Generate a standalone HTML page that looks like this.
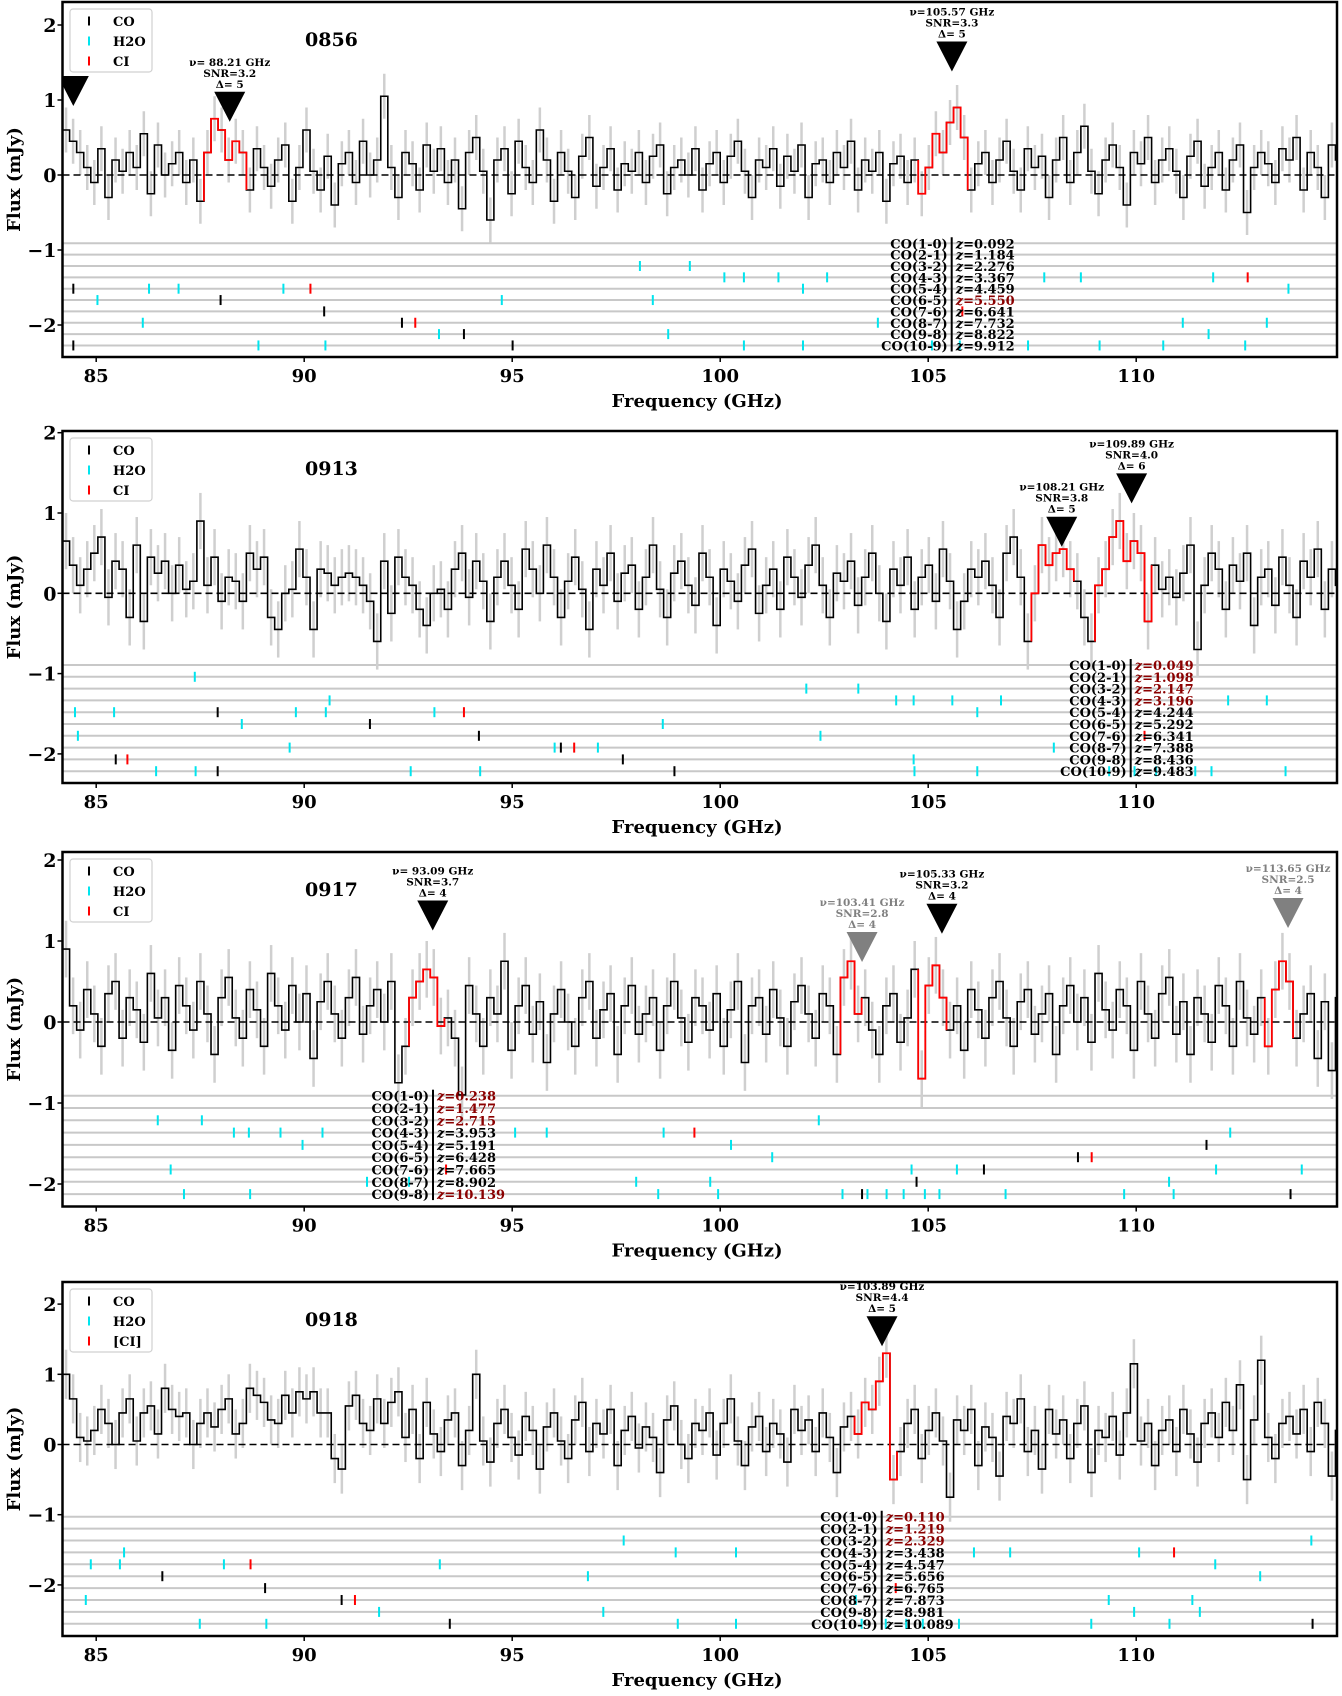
<!DOCTYPE html>
<html><head><meta charset="utf-8"><title>Spectra</title>
<style>
html,body{margin:0;padding:0;background:#fff;}
svg{display:block;font-family:"DejaVu Serif","Liberation Serif",serif;font-weight:bold;}
</style></head>
<body>
<svg id="fig" xmlns="http://www.w3.org/2000/svg" width="1342" height="1696" viewBox="0 0 1342 1696"></svg>
<script>
// ---- data ----
const FREQ0 = 84.19;
const CHAN = 0.17;
const xTicks = [85, 90, 95, 100, 105, 110];
const panelIds = ["0856", "0913", "0917", "0918"];

const flux0856 = [0.6,0.45,0.3,0.1,-0.1,0.35,-0.3,0.2,0.05,0.3,
0.1,0.55,-0.25,0.4,0.0,0.15,0.3,-0.1,0.2,-0.35,
0.3,0.75,0.6,0.2,0.45,0.3,-0.2,0.35,0.1,-0.15,
0.2,0.4,-0.35,0.1,0.6,0.05,-0.2,0.25,-0.4,0.15,
0.3,-0.1,0.45,0.0,0.2,1.05,0.1,-0.3,0.3,0.15,
-0.2,0.4,0.05,0.35,-0.1,0.2,-0.45,0.3,0.5,0.05,
-0.6,0.2,0.35,-0.25,0.45,0.1,-0.1,0.6,0.2,-0.35,
0.3,0.05,-0.3,0.25,0.5,-0.15,0.1,0.35,-0.2,0.15,
0.05,0.3,-0.1,0.25,0.4,-0.25,0.1,0.2,0.0,0.35,
-0.2,0.15,0.3,-0.1,0.25,0.45,0.05,-0.3,0.2,0.1,
0.35,-0.15,0.25,0.05,0.4,-0.3,0.15,0.2,-0.1,0.3,
0.1,0.45,-0.2,0.2,0.05,0.3,-0.35,0.15,0.25,-0.1,
0.2,-0.25,0.1,0.55,0.3,0.7,0.9,0.5,-0.2,0.15,
0.3,-0.1,0.2,0.45,0.05,-0.2,0.35,0.1,0.25,-0.3,
0.2,0.5,-0.1,0.3,0.65,0.05,-0.25,0.2,0.4,0.1,
-0.4,0.3,0.15,0.5,-0.1,0.2,0.35,0.05,-0.3,0.25,
0.45,-0.15,0.1,0.3,-0.2,0.2,0.4,-0.5,0.1,0.3,
0.15,-0.1,0.35,0.2,0.5,-0.2,0.3,0.1,-0.3,0.4,0.2];

const flux0913 = [0.65,0.35,0.1,0.3,0.5,0.7,-0.05,0.4,0.3,-0.3,
0.6,-0.35,0.45,0.25,0.4,0.0,0.35,0.05,0.15,0.9,
0.1,0.45,-0.1,0.2,0.15,-0.1,0.5,0.3,0.45,-0.3,
-0.45,0.0,0.05,0.55,0.2,-0.45,0.3,0.25,0.1,0.2,
0.25,0.2,0.1,-0.1,-0.6,0.4,-0.25,0.45,0.2,0.1,
-0.2,-0.4,0.0,0.05,-0.2,0.3,0.5,-0.05,0.4,0.15,
-0.35,0.2,0.4,0.1,-0.2,0.55,0.3,0.0,0.6,0.2,
-0.3,0.15,0.45,0.05,-0.45,0.3,0.1,0.5,-0.1,0.25,
0.35,-0.2,0.2,0.6,0.05,-0.3,0.25,0.4,0.1,-0.15,
0.5,0.2,-0.4,0.3,0.15,-0.1,0.35,0.55,-0.25,0.1,
0.3,-0.2,0.45,0.2,-0.05,0.35,0.6,0.1,-0.3,0.25,
0.15,0.4,-0.15,0.2,0.5,0.0,-0.35,0.3,0.1,0.45,
-0.2,0.2,0.35,-0.1,0.55,0.15,-0.45,-0.1,0.3,0.2,
0.4,0.1,-0.3,0.5,0.7,0.2,-0.6,0.0,0.6,0.35,
0.5,0.55,0.3,0.15,-0.3,-0.6,0.1,0.3,0.7,0.9,
0.4,0.65,0.5,-0.35,0.35,0.05,0.2,-0.05,0.25,0.6,
-0.7,0.1,0.5,0.3,-0.2,0.35,0.15,0.5,-0.4,0.2,
0.3,-0.15,0.45,0.1,-0.3,0.4,0.2,0.55,-0.2,0.3,0.1];

const flux0917 = [0.9,0.2,-0.1,0.4,0.1,-0.3,0.35,0.5,-0.2,0.3,
0.15,-0.25,0.6,0.05,0.3,-0.35,0.45,0.2,-0.1,0.5,
0.1,-0.4,0.3,0.55,0.05,-0.2,0.4,0.15,-0.3,0.6,
0.2,-0.1,0.45,0.0,0.35,-0.45,0.25,0.5,0.1,-0.2,
0.3,0.55,-0.15,0.2,0.4,0.0,0.5,-0.75,-0.3,0.3,
0.5,0.65,0.55,-0.05,0.05,-0.2,-0.9,0.45,0.1,-0.3,
0.3,0.1,0.75,-0.35,0.2,0.45,-0.15,0.25,-0.5,0.1,
0.4,0.0,-0.3,0.3,0.5,-0.2,0.15,0.35,-0.4,0.2,
0.45,-0.15,0.1,0.3,-0.35,0.2,0.5,0.05,-0.25,0.3,
0.2,-0.1,0.35,-0.3,0.15,0.5,-0.5,0.2,0.3,-0.15,
0.4,0.05,-0.3,0.25,0.45,0.1,-0.2,0.35,0.2,-0.4,
0.55,0.75,0.1,0.3,-0.1,-0.4,0.2,0.35,-0.25,0.05,
0.65,-0.7,0.45,0.7,0.3,-0.1,0.2,-0.35,0.4,0.15,
-0.2,0.3,0.5,0.05,-0.3,0.25,0.4,-0.15,0.1,0.35,
-0.4,0.2,0.45,0.0,0.3,-0.25,0.6,0.15,-0.1,0.4,
0.2,-0.35,0.5,0.1,-0.2,0.35,0.55,-0.15,0.25,-0.4,
0.3,0.1,-0.25,0.45,0.2,-0.3,0.5,0.05,-0.15,0.3,
-0.3,0.4,0.75,0.5,-0.2,0.1,0.35,-0.45,0.25,-0.6,0.3];

const flux0918 = [1.0,0.65,0.1,0.05,0.2,0.5,0.3,0.0,0.45,0.65,
0.05,0.45,0.55,0.15,0.8,0.5,0.4,0.45,0.0,0.3,
0.45,0.25,0.5,0.65,0.15,0.3,0.8,0.7,0.6,0.35,
0.3,0.7,0.45,0.75,0.65,0.75,0.45,0.45,-0.2,-0.35,
0.55,0.7,0.3,0.2,0.65,0.3,0.6,0.75,0.1,0.5,
-0.2,0.6,0.15,-0.1,0.35,0.45,-0.3,0.2,1.0,0.05,
-0.25,0.3,0.5,0.1,-0.15,0.4,0.2,-0.35,0.25,0.45,
0.05,-0.2,0.35,0.6,-0.1,0.3,0.15,0.5,-0.3,0.2,
0.4,-0.05,0.25,0.1,-0.4,0.35,0.55,0.0,-0.2,0.3,
0.2,0.45,-0.15,0.3,0.65,0.05,-0.3,0.25,0.4,-0.1,
0.3,0.15,-0.25,0.5,0.2,0.35,-0.1,0.45,0.1,-0.4,
0.25,0.4,0.15,0.6,0.5,0.9,1.3,-0.5,-0.1,0.3,
0.5,-0.2,0.2,0.45,0.05,-0.75,0.35,0.2,0.5,-0.3,
0.25,0.1,-0.45,0.4,0.3,0.65,-0.1,0.2,-0.35,0.5,
0.15,0.35,-0.2,0.3,0.55,-0.4,0.2,0.1,0.4,-0.15,
0.45,1.15,0.05,0.3,-0.3,0.2,0.35,-0.1,0.5,0.15,
-0.25,0.3,0.45,0.1,0.6,0.2,0.85,-0.5,0.35,1.2,
0.1,-0.2,0.3,0.4,0.15,0.5,-0.1,0.6,0.3,-0.45,0.2];

const fluxErr = [0.3, 0.35, 0.35, 0.35];

// highlighted (red) frequency ranges [start, end] in GHz
const red0856 = [[87.52, 88.56], [104.83, 105.95]];
const red0913 = [[107.45, 108.5], [109.05, 110.36]];
const red0917 = [[92.46, 93.29], [102.85, 103.48], [104.72, 105.5], [113.14, 113.82]];
const red0918 = [[103.2, 104.2]];

// detections: [freq, flux at tip, snr, delta, grey?]
const det0856 = [[84.45, 0.92, null, null, 0], [88.21, 0.71, 3.2, 5, 0], [105.57, 1.38, 3.3, 5, 0]];
const det0913 = [[108.21, 0.58, 3.8, 5, 0], [109.89, 1.12, 4.0, 6, 0]];
const det0917 = [[93.09, 1.13, 3.7, 4, 0], [103.41, 0.74, 2.8, 4, 1], [105.33, 1.09, 3.2, 4, 0], [113.65, 1.16, 2.5, 4, 1]];
const det0918 = [[103.89, 1.40, 4.4, 5, 0]];

// line-row labels
const coNames = ["CO(1-0)","CO(2-1)","CO(3-2)","CO(4-3)","CO(5-4)","CO(6-5)","CO(7-6)","CO(8-7)","CO(9-8)","CO(10-9)"];
const z0856 = ["0.092","1.184","2.276","3.367","4.459","5.550","6.641","7.732","8.822","9.912"];
const zRed0856 = [0,0,0,0,0,1,0,0,0,0];
const z0913 = ["0.049","1.098","2.147","3.196","4.244","5.292","6.341","7.388","8.436","9.483"];
const zRed0913 = [1,1,1,1,0,0,0,0,0,0];
const z0917 = ["0.238","1.477","2.715","3.953","5.191","6.428","7.665","8.902","10.139"];
const zRed0917 = [1,1,1,0,0,0,0,0,1];
const z0918 = ["0.110","1.219","2.329","3.438","4.547","5.656","6.765","7.873","8.981","10.089"];
const zRed0918 = [1,1,1,0,0,0,0,0,0,0];

// marker ticks: [row, type (k=CO, c=H2O, r=CI), freq]
const mk0856 = [[2,'c',98.07],[2,'c',99.27],
[3,'c',100.10],[3,'c',100.57],[3,'c',101.40],[3,'c',102.57],[3,'c',107.79],[3,'c',108.67],[3,'c',111.85],[3,'r',112.68],
[4,'k',84.45],[4,'c',86.27],[4,'c',86.98],[4,'c',89.50],[4,'r',90.15],[4,'c',101.99],[4,'c',113.66],
[5,'c',85.03],[5,'k',87.99],[5,'c',94.75],[5,'c',98.38],
[6,'k',90.48],[6,'r',105.82],
[7,'c',86.12],[7,'k',92.35],[7,'r',92.67],[7,'c',103.79],[7,'c',111.12],[7,'c',113.14],
[8,'c',93.24],[8,'k',93.84],[8,'c',98.75],[8,'c',111.74],
[9,'k',84.45],[9,'k',95.01],[9,'c',88.90],[9,'c',90.51],[9,'c',100.57],[9,'c',101.99],[9,'c',105.09],[9,'c',105.76],[9,'c',107.40],[9,'c',109.12],[9,'c',110.65],[9,'c',112.62]];
const mk0913 = [[1,'c',87.37],[2,'c',102.07],[2,'c',103.32],
[3,'c',90.61],[3,'c',104.23],[3,'c',104.65],[3,'c',105.58],[3,'c',106.75],[3,'c',112.21],[3,'c',113.14],
[4,'c',84.49],[4,'c',85.43],[4,'k',87.92],[4,'c',89.80],[4,'c',90.52],[4,'c',93.13],[4,'r',93.84],[4,'c',106.18],
[5,'c',88.50],[5,'k',91.58],[5,'c',98.62],
[6,'c',84.56],[6,'k',94.20],[6,'c',102.41],[6,'r',110.2],
[7,'c',89.65],[7,'c',96.02],[7,'k',96.17],[7,'r',96.49],[7,'c',97.06],[7,'c',108.02],
[8,'k',85.47],[8,'r',85.75],[8,'k',97.66],[8,'c',104.65],
[9,'c',86.44],[9,'c',87.39],[9,'k',87.92],[9,'c',92.56],[9,'c',94.23],[9,'k',98.90],[9,'c',104.67],[9,'c',106.18],[9,'c',109.35],[9,'c',109.96],[9,'c',110.48],[9,'c',111.42],[9,'c',111.81],[9,'c',113.59]];
const mk0917 = [[2,'c',86.48],[2,'c',87.54],[2,'c',102.37],
[3,'c',88.31],[3,'c',88.67],[3,'c',89.43],[3,'c',90.44],[3,'c',95.07],[3,'c',95.83],[3,'c',98.64],[3,'r',99.38],[3,'c',112.26],
[4,'c',89.96],[4,'c',100.26],[4,'k',111.69],
[5,'c',101.25],[5,'k',108.60],[5,'r',108.93],
[6,'c',86.79],[6,'r',93.41],[6,'c',104.60],[6,'c',105.69],[6,'k',106.34],[6,'c',111.92],[6,'c',113.98],
[7,'c',91.51],[7,'c',92.52],[7,'c',97.98],[7,'c',99.76],[7,'k',104.72],[7,'c',110.79],
[8,'c',87.11],[8,'c',88.70],[8,'c',98.51],[8,'c',99.95],[8,'c',102.94],[8,'k',103.41],[8,'c',103.54],[8,'c',104.0],[8,'c',104.41],[8,'c',104.92],[8,'c',105.27],[8,'c',106.86],[8,'c',109.71],[8,'c',110.90],[8,'k',113.71]];
const mk0918 = [[2,'c',97.68],[2,'c',114.21],
[3,'c',85.67],[3,'c',98.93],[3,'c',100.38],[3,'c',106.1],[3,'c',106.97],[3,'c',110.07],[3,'r',110.91],
[4,'c',84.87],[4,'c',85.57],[4,'c',88.07],[4,'r',88.71],[4,'c',93.26],[4,'c',111.9],
[5,'k',86.59],[5,'c',96.82],[5,'c',112.98],
[6,'k',89.06],[6,'r',104.22],
[7,'c',84.75],[7,'k',90.9],[7,'r',91.22],[7,'c',103.26],[7,'c',109.34],[7,'c',111.35],
[8,'c',91.8],[8,'c',97.19],[8,'c',109.95],[8,'c',111.53],
[9,'c',87.49],[9,'c',89.09],[9,'k',93.5],[9,'c',98.98],[9,'c',100.38],[9,'c',103.4],[9,'c',103.98],[9,'c',104.47],[9,'c',104.87],[9,'c',105.74],[9,'c',108.92],[9,'c',110.8],[9,'k',114.24]];

// ---- layout (pixel geometry, not data) ----
const L = 62.5, R = 1337;
const layout = [
  {top:2,   bot:357,    y0:175,    ppu:75,   row0:243.3,  rowStep:11.35, bar:951.7,  ciLabel:"CI"},
  {top:431, bot:783,    y0:593.3,  ppu:80.3, row0:665,    rowStep:11.8,  bar:1130.7, ciLabel:"CI"},
  {top:852, bot:1206.5, y0:1022,   ppu:81,   row0:1095.7, rowStep:12.3,  bar:433,    ciLabel:"CI"},
  {top:1282,bot:1636,   y0:1444.5, ppu:70.2, row0:1516.7, rowStep:11.9,  bar:881.7,  ciLabel:"[CI]"}
];
const fluxes = [flux0856, flux0913, flux0917, flux0918];
const reds = [red0856, red0913, red0917, red0918];
const dets = [det0856, det0913, det0917, det0918];
const zs = [z0856, z0913, z0917, z0918];
const zReds = [zRed0856, zRed0913, zRed0917, zRed0918];
const mks = [mk0856, mk0913, mk0917, mk0918];
const yTicks = [2, 1, 0, -1, -2];
const COLORS = {k:'#000', c:'#00e5ee', r:'#ff0000'};

const NS = "http://www.w3.org/2000/svg";
const svg = document.getElementById('fig');
function el(tag, attrs, parent) {
  const e = document.createElementNS(NS, tag);
  for (const k in attrs) e.setAttribute(k, attrs[k]);
  (parent || svg).appendChild(e);
  return e;
}
const X = f => 96.2 + (f - 85) * 41.6;

const defs = el('defs', {});
layout.forEach((g, p) => {
  const Y = v => g.y0 - v * g.ppu;
  const grp = el('g', {});
  
  

  const cp = el('clipPath', {id: 'clip' + p}, defs);
  el('rect', {x: L, y: g.top, width: R - L, height: g.bot - g.top}, cp);
  const plot = el('g', {'clip-path': 'url(#clip' + p + ')'}, grp);
  
  

  // row lines
  const nRows = zs[p].length;
  for (let r = 0; r < nRows; r++) {
    const yy = g.row0 + r * g.rowStep;
    const ln = el('line', {x1: L, x2: R, y1: yy, y2: yy, stroke: '#c8c8c8', 'stroke-width': 2}, plot);
    
    
  }

  // error bars
  const fl = fluxes[p];
  const err = fluxErr[p];
  fl.forEach((v, i) => {
    const xc = X(FREQ0 + (i + 0.5) * CHAN);
    const eb = el('line', {x1: xc, x2: xc, y1: Y(v - err), y2: Y(v + err), stroke: '#cfcfcf', 'stroke-width': 2.5}, plot);
    
    
  });

  // zero line
  const zl = el('line', {x1: L, x2: R, y1: Y(0), y2: Y(0), stroke: '#000', 'stroke-width': 1.6, 'stroke-dasharray': '7,4'}, plot);
  
  

  // step spectrum
  let d = '';
  fl.forEach((v, i) => {
    const x0 = X(FREQ0 + i * CHAN), x1 = X(FREQ0 + (i + 1) * CHAN);
    d += (i === 0 ? 'M' + x0 + ',' + Y(v) : 'L' + x0 + ',' + Y(v)) + 'L' + x1 + ',' + Y(v);
  });
  const sp = el('path', {d: d, fill: 'none', stroke: '#000', 'stroke-width': 1.6}, plot);
  
  

  // red highlighted channels
  const inRed = f => reds[p].some(rg => f >= rg[0] && f <= rg[1]);
  let rd = '';
  fl.forEach((v, i) => {
    const fc = FREQ0 + (i + 0.5) * CHAN;
    if (!inRed(fc)) return;
    const x0 = X(FREQ0 + i * CHAN), x1 = X(FREQ0 + (i + 1) * CHAN);
    const prev = i > 0 ? fl[i - 1] : v, next = i < fl.length - 1 ? fl[i + 1] : v;
    rd += 'M' + x0 + ',' + Y(prev) + 'L' + x0 + ',' + Y(v) + 'L' + x1 + ',' + Y(v) + 'L' + x1 + ',' + Y(next);
  });
  const rp = el('path', {d: rd, fill: 'none', stroke: '#ff0000', 'stroke-width': 1.8}, plot);
  
  

  // marker ticks
  mks[p].forEach(m => {
    const yy = g.row0 + m[0] * g.rowStep;
    const xx = X(m[2]);
    const t = el('line', {x1: xx, x2: xx, y1: yy - 5, y2: yy + 5, stroke: COLORS[m[1]], 'stroke-width': 2}, plot);
    
    
  });

  // row labels
  zs[p].forEach((z, r) => {
    const yy = g.row0 + r * g.rowStep + 5;
    const t1 = el('text', {x: g.bar - 4, y: yy, 'text-anchor': 'end', 'font-size': 13}, plot);
    t1.textContent = coNames[r];
    
    
    const t2 = el('text', {x: g.bar + 4, y: yy, 'font-size': 13, fill: zReds[p][r] ? '#8b0000' : '#000'}, plot);
    const zi = el('tspan', {'font-style': 'italic'}, t2);
    zi.textContent = 'z';
    const zv = el('tspan', {}, t2);
    zv.textContent = '=' + z;
    
    
  });
  const barTop = g.row0 - 6, barBot = g.row0 + (nRows - 1) * g.rowStep + 6;
  const bl = el('line', {x1: g.bar, x2: g.bar, y1: barTop, y2: barBot, stroke: '#000', 'stroke-width': 2}, plot);
  
  

  // detections
  dets[p].forEach(dt => {
    const xt = X(dt[0]), yt = Y(dt[1]);
    const col = dt[4] ? '#808080' : '#000';
    const tri = el('polygon', {points: (xt - 15.5) + ',' + (yt - 30) + ' ' + (xt + 15.5) + ',' + (yt - 30) + ' ' + xt + ',' + yt, fill: col}, plot);
    
    
    if (dt[2] === null) return;
    const lines = ['\u03BD=' + (dt[0] < 100 ? ' ' : '') + dt[0].toFixed(2) + ' GHz', 'SNR=' + dt[2].toFixed(1), '\u0394= ' + dt[3]];
    lines.forEach((s, k) => {
      const tt = el('text', {x: xt, y: yt - 56 + k * 11, 'text-anchor': 'middle', 'font-size': 10.5, fill: col, 'xml:space': 'preserve'}, plot);
      tt.textContent = s;
      
      
    });
  });

  // axes frame
  const fr = el('rect', {x: L, y: g.top, width: R - L, height: g.bot - g.top, fill: 'none', stroke: '#000', 'stroke-width': 2.5}, grp);
  
  

  // y ticks
  yTicks.forEach(v => {
    const yy = Y(v);
    if (yy < g.top || yy > g.bot) return;
    const tk = el('line', {x1: L - 5, x2: L, y1: yy, y2: yy, stroke: '#000', 'stroke-width': 1.5}, grp);
    
    
    const tl = el('text', {x: L - 6, y: yy + 7, 'text-anchor': 'end', 'font-size': 19}, grp);
    tl.textContent = v < 0 ? '\u2212' + (-v) : String(v);
    
    
  });
  // x ticks
  xTicks.forEach(f => {
    const xx = X(f);
    const tk = el('line', {x1: xx, x2: xx, y1: g.bot, y2: g.bot + 5, stroke: '#000', 'stroke-width': 1.5}, grp);
    
    
    const tl = el('text', {x: xx, y: g.bot + 25, 'text-anchor': 'middle', 'font-size': 18}, grp);
    tl.textContent = String(f);
    
    
  });
  const xt = el('text', {x: 697, y: g.bot + 50, 'text-anchor': 'middle', 'font-size': 18}, grp);
  xt.textContent = 'Frequency (GHz)';
  
  
  const yc = (g.top + g.bot) / 2;
  const yt = el('text', {x: 20, y: yc, 'text-anchor': 'middle', 'font-size': 18, transform: 'rotate(-90 20 ' + yc + ')'}, grp);
  yt.textContent = 'Flux (mJy)';
  
  

  // title
  const ti = el('text', {x: 305, y: g.top + 44, 'font-size': 19}, grp);
  ti.textContent = panelIds[p];
  
  

  // legend
  const lg = el('g', {}, grp);
  
  
  el('rect', {x: 70, y: g.top + 7, width: 82, height: 63, rx: 3, fill: '#fff', 'fill-opacity': 0.85, stroke: '#d0d0d0', 'stroke-width': 1.2}, lg);
  [['k', 'CO'], ['c', 'H2O'], ['r', g.ciLabel]].forEach((e, k) => {
    const yy = g.top + 19 + k * 20;
    const mkl = el('line', {x1: 89, x2: 89, y1: yy - 4.5, y2: yy + 4.5, stroke: COLORS[e[0]], 'stroke-width': 2}, lg);
    
    
    const lt = el('text', {x: 113, y: yy + 5, 'font-size': 13}, lg);
    lt.textContent = e[1];
    
    
  });
});
</script>
</body></html>
